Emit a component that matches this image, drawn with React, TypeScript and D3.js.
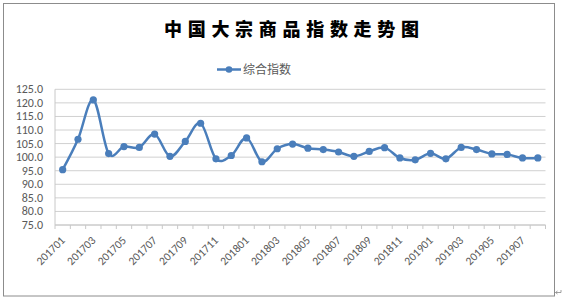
import React from "react";
import * as d3 from "d3";

const categories = [
  "201701","201702","201703","201704","201705","201706","201707","201708","201709","201710","201711","201712",
  "201801","201802","201803","201804","201805","201806","201807","201808","201809","201810","201811","201812",
  "201901","201902","201903","201904","201905","201906","201907","201908",
];
const values = [
  95.4, 106.6, 121.1, 101.3, 103.9, 103.6, 108.5, 100.3, 105.8, 112.5, 99.4, 100.6,
  107.1, 98.3, 103.1, 104.8, 103.3, 102.8, 101.9, 100.3, 102.1, 103.5, 99.7, 99.0,
  101.4, 99.4, 103.6, 102.8, 101.2, 101.0, 99.7, 99.7,
];
const yTicks = [75, 80, 85, 90, 95, 100, 105, 110, 115, 120, 125];
const title = "中国大宗商品指数走势图";
const seriesName = "综合指数";

export default function App() {
  const W = 562, H = 300;
  const left = 55, right = 545.5, top = 89.3, bottom = 225;
  const x = d3.scaleBand<string>().domain(categories).range([left, right]).padding(0);
  const y = d3.scaleLinear().domain([75, 125]).range([bottom, top]);
  const step = x.step();
  const cx = (c: string) => (x(c) as number) + x.bandwidth() / 2;
  const line = d3
    .line<number>()
    .x((_, i) => cx(categories[i]))
    .y((d) => y(d))
    .curve(d3.curveCardinal.tension(0));
  const color = "#4a7ebb";
  const labelColor = "#595959";
  const fontLat = "Calibri, Carlito, 'Liberation Sans', Arial, sans-serif";
  const boundaries = d3.range(categories.length + 1).map((i) => left + i * step);

  return (
    <div style={{ position: "fixed", left: 0, top: 0 }}>
      <svg width={W} height={H} style={{ display: "block", background: "#fff" }}>
        <rect x={3.5} y={3.5} width={551} height={292.5} fill="#fff" stroke="#8c8c8c" strokeWidth={1} />
        <text
          x={164}
          y={36}
          textAnchor="start"
          fontFamily="'Noto Sans CJK SC', sans-serif"
          fontWeight={900}
          fontSize={18}
          letterSpacing={5.7}
          fill="#000"
        >
          {title}
        </text>
        {/* legend */}
        <line x1={217} x2={241} y1={69.5} y2={69.5} stroke={color} strokeWidth={2.5} />
        <circle cx={229} cy={69.5} r={3.3} fill={color} />
        <text x={243} y={74} fontFamily="'Noto Sans CJK SC', sans-serif" fontSize={12} fill={labelColor}>
          {seriesName}
        </text>
        {/* gridlines */}
        {yTicks.map((t) => (
          <line key={t} x1={left} x2={right} y1={y(t)} y2={y(t)} stroke="#d0d0d0" strokeWidth={1} />
        ))}
        <line x1={left} x2={left} y1={top} y2={bottom} stroke="#c8c8c8" strokeWidth={1} />
        <line x1={left} x2={right} y1={bottom} y2={bottom} stroke="#c8c8c8" strokeWidth={1} />
        {boundaries.map((b, i) => (
          <line key={i} x1={b} x2={b} y1={bottom} y2={bottom + 4} stroke="#c8c8c8" strokeWidth={1} />
        ))}
        {yTicks.map((t) => (
          <text
            key={t}
            x={43}
            y={y(t) + 4}
            textAnchor="end"
            fontFamily={fontLat}
            fontSize={12}
            fill={labelColor}
          >
            {t.toFixed(1)}
          </text>
        ))}
        {categories.map((c, i) =>
          i % 2 === 0 ? (
            <text
              key={c}
              transform={`translate(${cx(c) + 3},${bottom + 16}) rotate(-45)`}
              textAnchor="end"
              fontFamily={fontLat}
              fontSize={11.5}
              fill={labelColor}
            >
              {c}
            </text>
          ) : null
        )}
        <path d={line(values) || ""} fill="none" stroke={color} strokeWidth={2.5} />
        {values.map((v, i) => (
          <circle key={i} cx={cx(categories[i])} cy={y(v)} r={3.6} fill={color} />
        ))}
        <path d="M555.5,292.5 H561 M555.5,292.5 l2,-1.5 M555.5,292.5 l2,1.5 M561,290 V292.5" stroke="#888" strokeWidth={0.8} fill="none" />
      </svg>
    </div>
  );
}
